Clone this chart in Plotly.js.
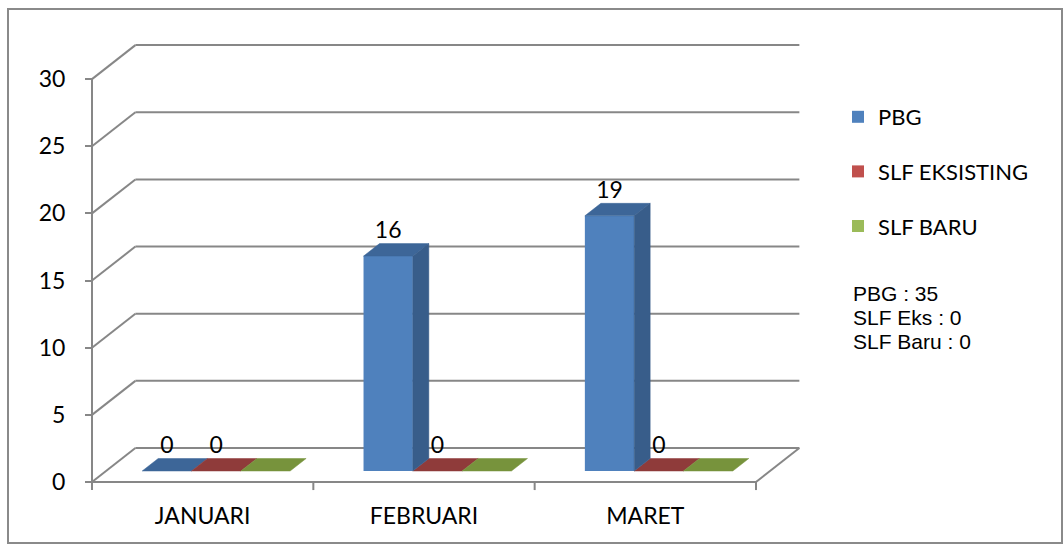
<!DOCTYPE html>
<html>
<head>
<meta charset="utf-8">
<script src="https://cdn.plot.ly/plotly-3.0.1.min.js"></script>
<style>html,body{margin:0;padding:0;background:#fff;}#chart{width:1064px;height:544px;}</style>
</head>
<body>
<div id="chart"></div>
<script>
// ---- data ----
const categories = ['JANUARI', 'FEBRUARI', 'MARET'];
const seriesNames = ['PBG', 'SLF EKSISTING', 'SLF BARU'];
const pbg = [0, 16, 19];
const slfEksisting = [0, 0, 0];
const slfBaru = [0, 0, 0];
const yTicks = [0, 5, 10, 15, 20, 25, 30];
const summaryLines = ['PBG : 35', 'SLF Eks : 0', 'SLF Baru : 0'];
const showLabels = [true, true, false];

// ---- styles ----
const frontColors = ['#4F81BD', '#C0504D', '#9BBB59'];
const topColors = ['#3D6698', '#8F3B3A', '#77933C'];
const sideColors = ['#385D8A', '#8A3836', '#71893F'];
const gridColor = '#878787';
const W = 1064, H = 544;

// 3D geometry (in axis units)
const wall = { dx: 0.196, dy: 2.53 };
const bar = { w: 0.2228, off: 0.061, base: 0.82, dx: 0.0723, dy: 0.93 };

const seriesValues = [pbg, slfEksisting, slfBaru];
const traces = [];

// front faces as bar traces
seriesValues.forEach((vals, k) => {
  traces.push({
    type: 'bar',
    name: seriesNames[k],
    legendgroup: 'g' + k,
    x: categories.map((c, i) => i + bar.off + (k - 1) * bar.w),
    y: vals,
    base: vals.map(() => bar.base),
    width: bar.w,
    marker: { color: frontColors[k], line: { width: 0 } },
    hoverinfo: 'skip'
  });
});

// top faces and side faces
const tops = [], sides = [], labels = [];
seriesValues.forEach((vals, k) => {
  vals.forEach((v, i) => {
    const xl = i + bar.off + (k - 1) * bar.w - bar.w / 2;
    const xr = xl + bar.w;
    const yt = bar.base + v;
    tops.push({
      type: 'scatter', mode: 'lines', showlegend: false, hoverinfo: 'skip',
      x: [xl, xr, xr + bar.dx, xl + bar.dx, xl],
      y: [yt, yt, yt + bar.dy, yt + bar.dy, yt],
      fill: 'toself', fillcolor: topColors[k],
      line: { color: topColors[k], width: 0.5 }
    });
    if (v > 0) {
      sides.push({
        type: 'scatter', mode: 'lines', showlegend: false, hoverinfo: 'skip',
        x: [xr, xr + bar.dx, xr + bar.dx, xr, xr],
        y: [bar.base, bar.base + bar.dy, yt + bar.dy, yt, bar.base],
        fill: 'toself', fillcolor: sideColors[k],
        line: { color: sideColors[k], width: 0.5 }
      });
    }
  });
  if (showLabels[k]) {
    labels.push({
      type: 'scatter', mode: 'text', showlegend: false, hoverinfo: 'skip',
      x: vals.map((v, i) => i + bar.off + (k - 1) * bar.w),
      y: vals.map(v => bar.base + v + bar.dy),
      text: vals.map(v => String(v)),
      textposition: 'top center',
      textfont: { family: 'Lato, sans-serif', size: 23, color: '#000' }
    });
  }
});
traces.push(...tops, ...sides, ...labels);

// walls, gridlines, floor
const xL = -0.5, xR = categories.length - 0.5;
const shapes = [];
const ln = (x0, y0, x1, y1) => ({ type: 'line', xref: 'x', yref: 'y', x0, y0, x1, y1, layer: 'below', line: { color: gridColor, width: 2 } });
yTicks.forEach(t => {
  shapes.push(ln(xL, t, xL + wall.dx, t + wall.dy));
  shapes.push(ln(xL + wall.dx, t + wall.dy, xR + wall.dx, t + wall.dy));
});
shapes.push(ln(xL, 0, xL, yTicks[yTicks.length - 1]));
shapes.push(ln(xL, 0, xR, 0));
shapes.push(ln(xR, 0, xR + wall.dx, wall.dy));
for (let b = 0; b <= categories.length; b++) {
  shapes.push(ln(xL + b, 0, xL + b, -0.6));
}
shapes.push({ type: 'rect', xref: 'paper', yref: 'paper', x0: 8 / W, x1: 1062 / W, y0: 1 / H, y1: 1 - 9 / H, line: { color: '#8a8a8a', width: 2 }, layer: 'below' });

const annotations = summaryLines.map((t, j) => ({
  xref: 'paper', yref: 'paper', x: 851 / W, y: 1 - (293 + j * 24) / H,
  xanchor: 'left', yanchor: 'middle', showarrow: false, text: t,
  font: { family: 'Liberation Sans, Arial, sans-serif', size: 21, color: '#000' }
}));

const layout = {
  width: W, height: H,
  margin: { l: 0, r: 0, t: 0, b: 0, autoexpand: false },
  paper_bgcolor: '#fff', plot_bgcolor: 'rgba(0,0,0,0)',
  barmode: 'overlay',
  font: { family: 'Lato, sans-serif', size: 22, color: '#000' },
  xaxis: {
    domain: [80 / W, 820 / W], range: [-0.5542, 2.7892], anchor: 'free', position: 62 / H,
    tickvals: categories.map((c, i) => i), ticktext: categories, ticks: '',
    showgrid: false, zeroline: false, showline: false, fixedrange: true,
    ticklabelstandoff: 18,
    tickfont: { family: 'Lato, sans-serif', size: 23, color: '#000' }
  },
  yaxis: {
    domain: [44 / H, 514 / H], range: [-1.340, 33.656], anchor: 'free', position: 92 / W,
    tickvals: yTicks, ticks: 'outside', ticklen: 7, tickwidth: 2, tickcolor: gridColor,
    showgrid: false, zeroline: false, showline: false, fixedrange: true,
    ticklabelstandoff: 15,
    tickfont: { family: 'Lato, sans-serif', size: 23, color: '#000' }
  },
  legend: {
    x: 838 / W, y: 1 - 96 / H, xanchor: 'left', yanchor: 'top',
    bgcolor: 'rgba(0,0,0,0)', tracegroupgap: 23, traceorder: 'grouped',
    font: { family: 'Lato, sans-serif', size: 22, color: '#000' }
  },
  shapes, annotations,
  showlegend: true
};

Plotly.newPlot('chart', traces, layout, { displayModeBar: false, staticPlot: true });
</script>
</body>
</html>
